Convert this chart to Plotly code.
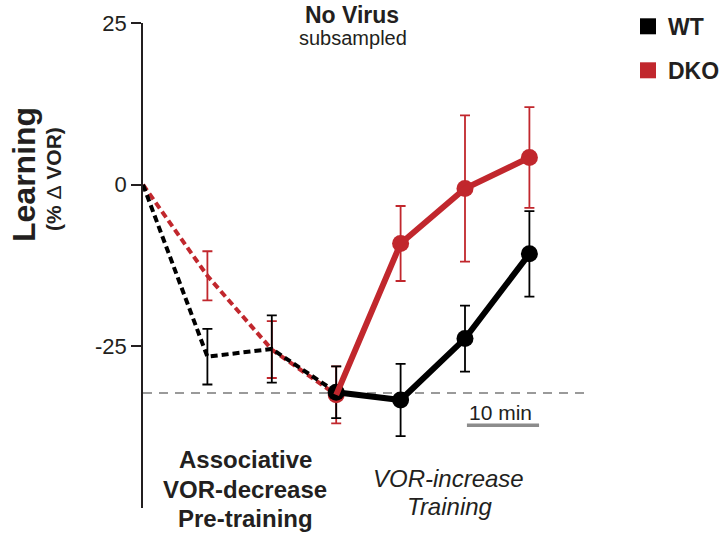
import plotly.graph_objects as go

# ---- data ----
timepoints = [0, 1, 2, 3, 4, 5, 6]
wt_mean = [0, -26.6, -25.4, -32.1, -33.3, -23.8, -10.7]
wt_err = [0, 4.3, 5.2, 4.0, 5.6, 5.1, 6.6]
dko_mean = [0, -14.1, -25.5, -32.5, -9.1, -0.6, 4.2]
dko_err = [0, 3.8, 4.4, 4.4, 5.8, 11.3, 7.8]
baseline_value = -32.2
y_tickvals = [-25, 0, 25]
y_ticktext = ["-25", "0", "25"]

RED = "#c1272d"
BLACK = "#000000"
TXT = "#231f20"
FONT = "Liberation Sans, Arial, sans-serif"

# plot geometry (pixels)
L, R, T, B = 143, 123, 23, 28
W = 723 - L - R
H = 536 - T - B
PX_PER_X = 64.4
XMAX = W / PX_PER_X


def px(xp):
    return (xp - L) / W


def py(yp):
    return (536 - B - yp) / H


fig = go.Figure()

# baseline dashed reference
fig.add_trace(go.Scatter(x=[0, 6.85], y=[baseline_value, baseline_value], mode="lines",
                         line=dict(color="#9a9a9a", width=2, dash="9px,7px"),
                         hoverinfo="skip", cliponaxis=False))


def err_trace(means, errs, color):
    return go.Scatter(x=timepoints[1:], y=means[1:], mode="markers",
                      marker=dict(size=1, color="rgba(0,0,0,0)"),
                      error_y=dict(type="data", array=errs[1:], color=color,
                                   thickness=1.8, width=5),
                      hoverinfo="skip", cliponaxis=False)


# DKO errors + dashed pretraining
fig.add_trace(err_trace(dko_mean, dko_err, RED))
fig.add_trace(go.Scatter(x=timepoints[:4], y=dko_mean[:4], mode="lines",
                         line=dict(color=RED, width=4, dash="7px,4px"),
                         cliponaxis=False))
# WT errors + dashed pretraining
fig.add_trace(err_trace(wt_mean, wt_err, BLACK))
fig.add_trace(go.Scatter(x=timepoints[:4], y=wt_mean[:4], mode="lines",
                         line=dict(color=BLACK, width=4, dash="7px,4px"),
                         cliponaxis=False))
# DKO markers
fig.add_trace(go.Scatter(x=timepoints[3:], y=dko_mean[3:], mode="markers",
                         marker=dict(size=17, color=RED), cliponaxis=False))
# WT training line + markers
fig.add_trace(go.Scatter(x=timepoints[3:], y=wt_mean[3:], mode="lines+markers",
                         line=dict(color=BLACK, width=6),
                         marker=dict(size=17, color=BLACK), cliponaxis=False))
# DKO training line on top
fig.add_trace(go.Scatter(x=timepoints[3:], y=dko_mean[3:], mode="lines",
                         line=dict(color=RED, width=6), cliponaxis=False))

shapes = [
    # 10 min scale bar
    dict(type="line", xref="x", yref="y", x0=5.03, x1=6.15, y0=-37.2, y1=-37.2,
         line=dict(color="#8c8c8c", width=3.5)),
    # legend squares
    dict(type="rect", xref="paper", yref="paper", x0=px(640), x1=px(656),
         y0=py(34.3), y1=py(18.3), fillcolor=BLACK, line=dict(width=0)),
    dict(type="rect", xref="paper", yref="paper", x0=px(640), x1=px(656),
         y0=py(78.3), y1=py(62.3), fillcolor=RED, line=dict(width=0)),
]


def ann(text, xp, yp, size, bold=False, italic=False, xanchor="center", angle=0):
    t = text
    if bold:
        t = "<b>" + t + "</b>"
    if italic:
        t = "<i>" + t + "</i>"
    return dict(text=t, x=px(xp), y=py(yp), xref="paper", yref="paper",
                xanchor=xanchor, yanchor="middle", showarrow=False,
                textangle=angle, font=dict(family=FONT, size=size, color=TXT))


annotations = [
    ann("No Virus", 352, 15, 23, bold=True),
    ann("subsampled", 352.5, 38, 20),
    ann("Associative", 245, 459, 24, bold=True),
    ann("VOR-decrease", 245, 489, 24, bold=True),
    ann("Pre-training", 245, 518, 24, bold=True),
    ann("VOR-increase", 448, 478, 24, italic=True),
    ann("Training", 450, 506, 24, italic=True),
    ann("10 min", 500, 412, 21),
    ann("WT", 666, 27, 23, bold=True, xanchor="left"),
    ann("DKO", 666, 71, 23, bold=True, xanchor="left"),
    ann("Learning", 24, 175, 32, bold=True, angle=-90),
    ann("<b>(% </b>Δ<b> VOR)</b>", 54, 179, 21, angle=-90),
]

fig.update_layout(
    width=723, height=536,
    margin=dict(l=L, r=R, t=T, b=B, pad=0),
    paper_bgcolor="white", plot_bgcolor="white",
    showlegend=False,
    shapes=shapes,
    annotations=annotations,
    font=dict(family=FONT, color=TXT),
    xaxis=dict(range=[0, XMAX], visible=False, fixedrange=True),
    yaxis=dict(range=[-50, 25], tickvals=y_tickvals, ticktext=y_ticktext,
               showline=True, linecolor="#231f20", linewidth=1.5,
               ticks="outside", ticklen=10, tickwidth=1.5, tickcolor="#231f20",
               tickfont=dict(family=FONT, size=22, color="#231f20"),
               showgrid=False, zeroline=False, fixedrange=True),
)

fig.write_html("out.html", config={"displayModeBar": False},
               post_script="document.body.style.margin='0';document.body.style.overflow='hidden';")
